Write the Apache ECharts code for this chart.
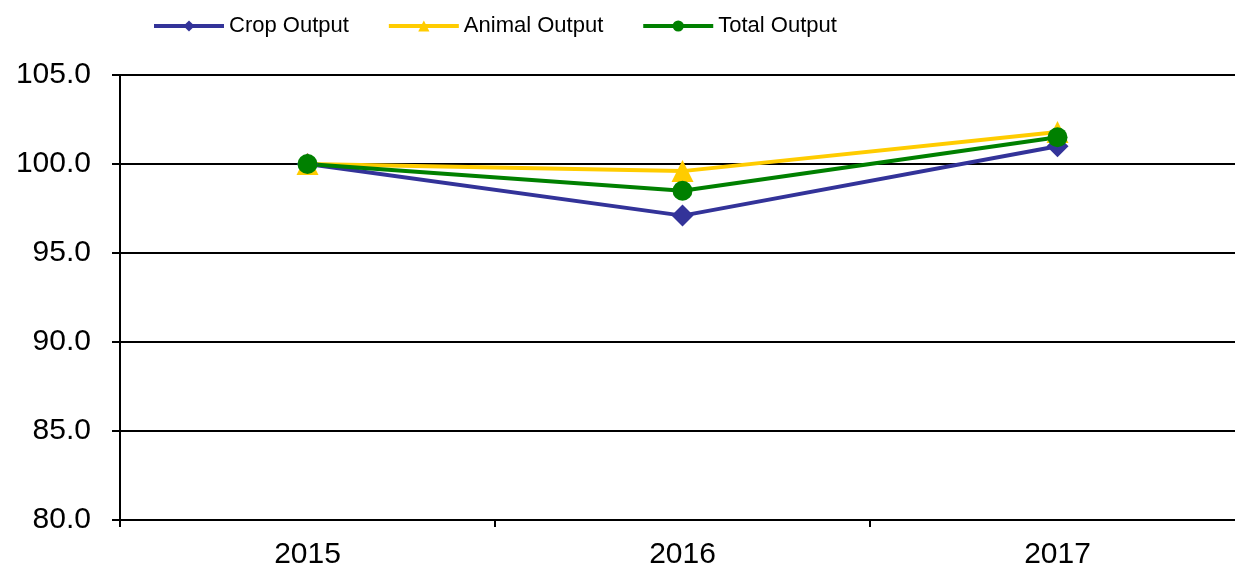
<!DOCTYPE html>
<html><head><meta charset="utf-8">
<script src="https://cdn.jsdelivr.net/npm/echarts@6/dist/echarts.min.js"></script>
<style>html,body{margin:0;padding:0;background:#fff}#c{width:1235px;height:570px}</style>
</head><body><div id="c"></div>
<script>
const categories = ['2015', '2016', '2017'];
const cropOutput = [100.0, 97.1, 101.0];
const animalOutput = [100.0, 99.6, 101.8];
const totalOutput = [100.0, 98.5, 101.5];

const chart = echarts.init(document.getElementById('c'));
const font = 'Liberation Sans, Arial, sans-serif';
function s(name, data, color, symbol, size) {
  return { name, type: 'line', data, symbol, symbolSize: size,
    lineStyle: { color, width: 4 }, itemStyle: { color }, color, animation: false };
}
chart.setOption({
  animation: false,
  legend: {
    top: 10, left: 147, itemWidth: 70, itemHeight: 14, itemGap: 38,
    lineStyle: { width: 4 },
    textStyle: { fontFamily: font, fontSize: 22, color: '#000' },
    data: ['Crop Output', 'Animal Output', 'Total Output']
  },
  grid: { left: 120, top: 75, right: -10, bottom: 50, outerBoundsMode: 'none', containLabel: false },
  xAxis: {
    type: 'category', data: categories, boundaryGap: true,
    axisLine: { lineStyle: { color: '#000', width: 2 } },
    axisTick: { show: true, length: 7, lineStyle: { color: '#000', width: 2 } },
    axisLabel: { fontFamily: font, fontSize: 30, color: '#000', margin: 20 }
  },
  yAxis: {
    type: 'value', min: 80, max: 105, interval: 5,
    axisLine: { show: true, lineStyle: { color: '#000', width: 2 } },
    axisTick: { show: true, inside: false, length: 8, lineStyle: { color: '#000', width: 2 } },
    axisLabel: { fontFamily: font, fontSize: 30, color: '#000', margin: 29, formatter: v => v.toFixed(1) },
    splitLine: { lineStyle: { color: '#000', width: 2 } }
  },
  series: [
    s('Crop Output', cropOutput, '#333399', 'diamond', 22),
    s('Animal Output', animalOutput, '#FFCC00', 'triangle', 22),
    s('Total Output', totalOutput, '#008000', 'circle', 20)
  ]
});
</script></body></html>
